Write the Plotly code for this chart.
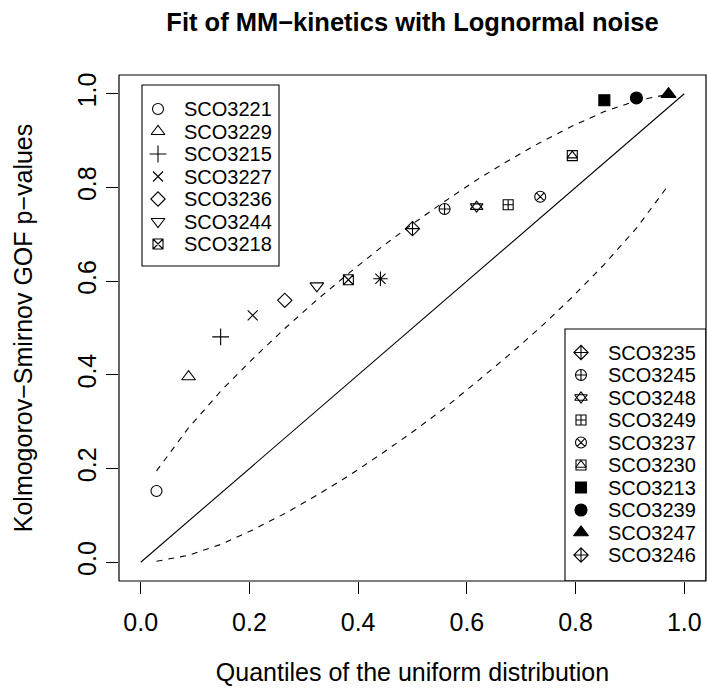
import plotly.graph_objects as go

# ---------------- data ----------------
genes = ["SCO3221", "SCO3229", "SCO3215", "SCO3227", "SCO3236", "SCO3244", "SCO3218",
         "SCO3235", "SCO3245", "SCO3248", "SCO3249", "SCO3237", "SCO3230", "SCO3213",
         "SCO3239", "SCO3247", "SCO3246"]
uniform_quantiles = [0.029, 0.088, 0.147, 0.206, 0.265, 0.324, 0.382, 0.441, 0.500,
                     0.559, 0.618, 0.676, 0.735, 0.794, 0.853, 0.912, 0.971]
ks_pvalues = [0.152, 0.396, 0.481, 0.527, 0.559, 0.590, 0.603, 0.605, 0.712,
              0.754, 0.759, 0.763, 0.780, 0.868, 0.986, 0.991, 0.999]
upper_band = [0.195, 0.287, 0.365, 0.434, 0.499, 0.560, 0.616, 0.671, 0.722,
              0.770, 0.816, 0.857, 0.896, 0.931, 0.962, 0.985, 0.999]
lower_band = [0.002, 0.015, 0.038, 0.069, 0.104, 0.143, 0.184, 0.230, 0.278,
              0.329, 0.385, 0.441, 0.501, 0.566, 0.636, 0.713, 0.805]
diag_x = [0.0, 1.0]
diag_y = [0.0, 1.0]
tick_vals = [0.0, 0.2, 0.4, 0.6, 0.8, 1.0]
tick_text = ["0.0", "0.2", "0.4", "0.6", "0.8", "1.0"]
left_legend_labels = genes[:7]
right_legend_labels = genes[7:]

# ---------------- styles ----------------
FONT = "Liberation Sans, Arial, Helvetica, sans-serif"
AXIS_FS = 25
LEGEND_FS = 20
point_symbols = ["circle-open", "triangle-up-open", "cross-thin-open", "x-thin-open",
                 "diamond-open", "triangle-down-open", "square-x-open", "asterisk-open",
                 "diamond-cross-open", "circle-cross-open", "triangle-up-open",
                 "square-cross-open", "circle-x-open", "square-open", "square",
                 "circle", "triangle-up"]
point_sizes = [11, 12, 12, 10, 11, 12, 10, 12, 11, 11, 11, 10, 11, 10, 11, 12, 13]
# second glyph for compound R symbols (pch 11 = two triangles, pch 14 = square + triangle)
extra_symbols = [None, None, None, None, None, None, None, None, None, None,
                 "triangle-down-open", None, None, "triangle-up-open", None, None, None]
extra_sizes = [0, 0, 0, 0, 0, 0, 0, 0, 0, 0, 11, 0, 0, 9, 0, 0, 0]

legend_left_symbols = point_symbols[:7]
legend_left_sizes = point_sizes[:7]
legend_right_symbols = ["diamond-cross-open", "circle-cross-open", "triangle-up-open",
                        "square-cross-open", "circle-x-open", "square-open", "square",
                        "circle", "triangle-up", "diamond-cross-open"]
legend_right_sizes = [11, 11, 11, 10, 11, 10, 11, 12, 13, 11]
legend_right_extra = [None, None, "triangle-down-open", None, None, "triangle-up-open",
                      None, None, None, None]
legend_right_extra_sizes = [0, 0, 11, 0, 0, 9, 0, 0, 0, 0]

# pixel layout of the plotting region
W, H = 707, 690
L, R, T, B = 119, 1, 75, 109
PX0, PX1 = L, W - R
PY0, PY1 = T, H - B
LW = 1.1

fig = go.Figure()

# reference diagonal and confidence envelope
fig.add_trace(go.Scatter(x=diag_x, y=diag_y, mode="lines",
                         line=dict(color="black", width=LW), showlegend=False, hoverinfo="skip"))
fig.add_trace(go.Scatter(x=uniform_quantiles, y=upper_band, mode="lines",
                         line=dict(color="black", width=LW, dash="6px,6px"),
                         showlegend=False, hoverinfo="skip"))
fig.add_trace(go.Scatter(x=uniform_quantiles, y=lower_band, mode="lines",
                         line=dict(color="black", width=LW, dash="6px,6px"),
                         showlegend=False, hoverinfo="skip"))

# points
fig.add_trace(go.Scatter(x=uniform_quantiles, y=ks_pvalues, mode="markers", text=genes,
                         marker=dict(symbol=point_symbols, size=point_sizes, color="black",
                                     opacity=1, line=dict(color="black", width=LW)),
                         showlegend=False))
ex_idx = [i for i, s in enumerate(extra_symbols) if s]
fig.add_trace(go.Scatter(x=[uniform_quantiles[i] for i in ex_idx],
                         y=[ks_pvalues[i] for i in ex_idx], mode="markers",
                         marker=dict(symbol=[extra_symbols[i] for i in ex_idx],
                                     size=[extra_sizes[i] for i in ex_idx], color="black",
                                     opacity=1, line=dict(color="black", width=LW)),
                         showlegend=False, hoverinfo="skip"))

# ---------------- manual R-style legends (pixel overlay axes) ----------------
shapes = [dict(type="rect", xref="paper", yref="paper", x0=0, y0=0, x1=1, y1=1,
               line=dict(color="black", width=1.2))]
annotations = []
ROW = 22.5


def draw_legend(labels, symbols, sizes, extras, extra_sizes_, box, sym_x, text_x, first_y):
    x0, y0, x1, y1 = box
    shapes.append(dict(type="rect", xref="x2", yref="y2", x0=x0, y0=y0, x1=x1, y1=y1,
                       line=dict(color="black", width=LW), layer="below"))
    ys = [first_y + k * ROW for k in range(len(labels))]
    fig.add_trace(go.Scatter(x=[sym_x] * len(labels), y=ys, mode="markers",
                             xaxis="x2", yaxis="y2",
                             marker=dict(symbol=symbols, size=sizes, color="black", opacity=1,
                                         line=dict(color="black", width=LW)),
                             showlegend=False, hoverinfo="skip"))
    idx = [k for k, s in enumerate(extras) if s]
    if idx:
        fig.add_trace(go.Scatter(x=[sym_x] * len(idx), y=[ys[k] for k in idx], mode="markers",
                                 xaxis="x2", yaxis="y2",
                                 marker=dict(symbol=[extras[k] for k in idx],
                                             size=[extra_sizes_[k] for k in idx], color="black",
                                             opacity=1, line=dict(color="black", width=LW)),
                                 showlegend=False, hoverinfo="skip"))
    for lab, y in zip(labels, ys):
        annotations.append(dict(x=text_x, y=y, xref="x2", yref="y2", text=lab,
                                showarrow=False, xanchor="left", yanchor="middle",
                                font=dict(family=FONT, size=LEGEND_FS, color="black")))


draw_legend(left_legend_labels, legend_left_symbols, legend_left_sizes,
            [None] * 7, [0] * 7, (142, 85, 279, 266), 158, 182, 109)
draw_legend(right_legend_labels, legend_right_symbols, legend_right_sizes,
            legend_right_extra, legend_right_extra_sizes, (565, 329, PX1, PY1), 581, 606, 352.5)

axis_common = dict(range=[-0.04, 1.04], tickvals=tick_vals, ticktext=tick_text,
                   ticks="outside", ticklen=12, tickwidth=LW, tickcolor="black",
                   showgrid=False, zeroline=False, showline=False, automargin=False,
                   tickfont=dict(family=FONT, size=AXIS_FS, color="black"))

fig.update_layout(
    width=W, height=H,
    margin=dict(l=L, r=R, t=T, b=B, pad=0),
    paper_bgcolor="white", plot_bgcolor="white",
    font=dict(family=FONT, size=AXIS_FS, color="black"),
    title=dict(text="Fit of MM−kinetics with Lognormal noise", x=(PX0 + PX1) / 2 / W,
               xanchor="center", xref="container", yref="container",
               y=1 - 22 / H, yanchor="middle",
               font=dict(family=FONT, size=25.5, color="black", weight="bold")),
    xaxis=dict(**axis_common, ticklabelstandoff=7,
               title=dict(text="Quantiles of the uniform distribution", standoff=28,
                          font=dict(family=FONT, size=AXIS_FS))),
    yaxis=dict(**axis_common, tickangle=-90, ticklabelstandoff=0,
               title=dict(text="Kolmogorov−Smirnov GOF p−values", standoff=33,
                          font=dict(family=FONT, size=AXIS_FS))),
    xaxis2=dict(range=[PX0, PX1], overlaying="x", visible=False, fixedrange=True),
    yaxis2=dict(range=[PY1, PY0], overlaying="y", visible=False, fixedrange=True),
    shapes=shapes, annotations=annotations,
)

fig.write_html("out.html", config={"displayModeBar": False},
               post_script="document.body.style.margin='0px';document.body.style.overflow='hidden';")
